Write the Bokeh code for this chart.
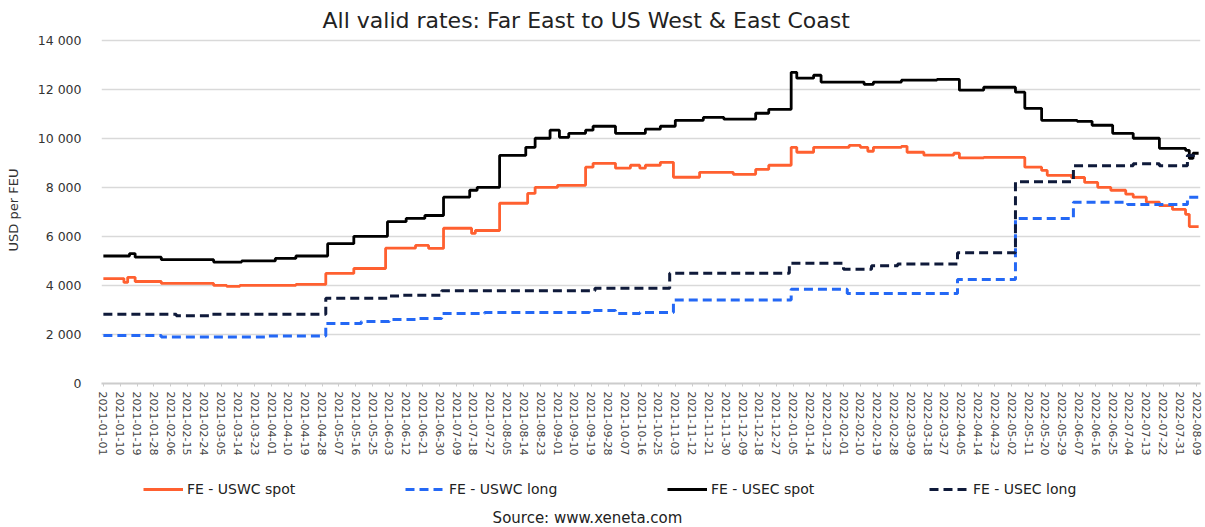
import pandas as pd
from bokeh.plotting import figure
from bokeh.layouts import column
from bokeh.models import Range1d, FixedTicker, DatetimeTickFormatter, Legend, LegendItem, Label
from bokeh.embed import file_html
from bokeh.resources import INLINE

# ---------------- data ----------------
uswc_spot_dates = ["2021-01-01", "2021-01-12", "2021-01-14", "2021-01-18", "2021-02-01", "2021-03-01",
                   "2021-03-08", "2021-03-15", "2021-04-14", "2021-04-30", "2021-05-15", "2021-06-01",
                   "2021-06-17", "2021-06-24", "2021-07-02", "2021-07-17", "2021-07-19", "2021-08-01",
                   "2021-08-16", "2021-08-20", "2021-09-01", "2021-09-16", "2021-09-20", "2021-10-02",
                   "2021-10-10", "2021-10-15", "2021-10-18", "2021-10-26", "2021-11-02", "2021-11-16",
                   "2021-11-29", "2021-12-04", "2021-12-16", "2021-12-23", "2022-01-04", "2022-01-07",
                   "2022-01-16", "2022-02-04", "2022-02-10", "2022-02-14", "2022-02-17", "2022-03-04",
                   "2022-03-07", "2022-03-16", "2022-04-01", "2022-04-04", "2022-04-17", "2022-05-09",
                   "2022-05-18", "2022-05-21", "2022-06-03", "2022-06-10", "2022-06-17", "2022-06-24",
                   "2022-07-02", "2022-07-06", "2022-07-13", "2022-07-20", "2022-07-27", "2022-08-03",
                   "2022-08-05", "2022-08-10"]
uswc_spot = [4280, 4120, 4330, 4160, 4080, 4000,
             3960, 4000, 4040, 4490, 4690, 5520,
             5630, 5510, 6330, 6120, 6240, 7350,
             7750, 8000, 8080, 8820, 8980, 8780,
             8900, 8780, 8900, 9020, 8410, 8610,
             8610, 8530, 8730, 8900, 9630, 9430,
             9630, 9710, 9630, 9470, 9630, 9670,
             9430, 9310, 9390, 9200, 9220, 8820,
             8690, 8490, 8400, 8200, 8000, 7880,
             7720, 7600, 7400, 7250, 7100, 6900,
             6400, 6400]

uswc_long_dates = ["2021-01-01", "2021-02-01", "2021-03-29", "2021-04-30", "2021-05-19", "2021-06-03",
                   "2021-06-17", "2021-07-01", "2021-07-24", "2021-09-18", "2021-10-02", "2021-10-15",
                   "2021-11-02", "2022-01-04", "2022-02-03", "2022-04-03", "2022-05-04", "2022-06-04",
                   "2022-07-03", "2022-08-04", "2022-08-10"]
uswc_long = [1960, 1900, 1940, 2450, 2530, 2610,
             2650, 2850, 2900, 2980, 2850, 2900,
             3400, 3840, 3670, 4240, 6730, 7390,
             7300, 7590, 7590]

usec_spot_dates = ["2021-01-01", "2021-01-15", "2021-01-18", "2021-02-01", "2021-03-01", "2021-03-16",
                   "2021-04-03", "2021-04-14", "2021-05-01", "2021-05-15", "2021-06-02", "2021-06-12",
                   "2021-06-22", "2021-07-02", "2021-07-16", "2021-07-20", "2021-08-01", "2021-08-15",
                   "2021-08-20", "2021-08-28", "2021-09-02", "2021-09-07", "2021-09-16", "2021-09-20",
                   "2021-10-02", "2021-10-18", "2021-10-26", "2021-11-03", "2021-11-18", "2021-11-29",
                   "2021-12-16", "2021-12-23", "2022-01-04", "2022-01-07", "2022-01-16", "2022-01-20",
                   "2022-02-12", "2022-02-17", "2022-03-04", "2022-03-23", "2022-04-04", "2022-04-17",
                   "2022-05-04", "2022-05-09", "2022-05-18", "2022-06-06", "2022-06-14", "2022-06-25",
                   "2022-07-06", "2022-07-20", "2022-08-03", "2022-08-05", "2022-08-07", "2022-08-10"]
usec_spot = [5200, 5300, 5150, 5050, 4950, 5000,
             5100, 5200, 5700, 6000, 6600, 6730,
             6850, 7600, 7880, 8000, 9300, 9630,
             10000, 10330, 10040, 10200, 10330, 10490,
             10200, 10370, 10490, 10730, 10850, 10780,
             11020, 11180, 12690, 12450, 12570, 12290,
             12200, 12290, 12370, 12400, 11960, 12080,
             11880, 11220, 10730, 10690, 10530, 10200,
             10000, 9590, 9510, 9180, 9390, 9390]

usec_long_dates = ["2021-01-01", "2021-02-09", "2021-02-27", "2021-04-30", "2021-06-02", "2021-06-10",
                   "2021-07-01", "2021-09-21", "2021-10-31", "2022-01-03", "2022-02-01", "2022-02-16",
                   "2022-03-02", "2022-04-03", "2022-05-04", "2022-06-04", "2022-07-06", "2022-07-20",
                   "2022-08-04", "2022-08-10"]
usec_long = [2820, 2760, 2820, 3480, 3570, 3600,
             3780, 3880, 4500, 4900, 4660, 4800,
             4870, 5330, 8230, 8880, 8960, 8880,
             9300, 9300]

series_names = ["FE - USWC spot", "FE - USWC long", "FE - USEC spot", "FE - USEC long"]

y_ticks = [0, 2000, 4000, 6000, 8000, 10000, 12000, 14000]
y_tick_labels = ["0", "2 000", "4 000", "6 000", "8 000", "10 000", "12 000", "14 000"]

x_tick_start = "2021-01-01"
x_tick_end = "2022-08-09"
x_tick_step_days = 9

title_text = "All valid rates: Far East to US West & East Coast"
y_label = "USD per FEU"
source_text = "Source: www.xeneta.com"

# ---------------- chart ----------------
FONT = "DejaVu Sans"
W = 1204
FRAME_LEFT = 101

def ms(s):
    return float(pd.Timestamp(s).value // 10**6)

x_ticks = [float(t.value // 10**6) for t in pd.date_range(x_tick_start, x_tick_end, freq=f"{x_tick_step_days}D")]

p = figure(width=W, height=465, x_axis_type="datetime",
           output_backend="svg", toolbar_location=None,
           x_range=Range1d(ms("2020-12-31"), ms("2022-08-11")),
           y_range=Range1d(0, 14150),
           min_border_left=FRAME_LEFT, min_border_right=4, min_border_top=36, min_border_bottom=82)

p.title.text = title_text
p.title.align = "left"
p.title.offset = 221
p.title.vertical_align = "top"
p.title.text_font = FONT
p.title.text_font_size = "22px"
p.title.text_font_style = "normal"
p.title.text_color = "#222222"
p.title.standoff = 4

p.outline_line_color = None

p.xgrid.grid_line_color = None
p.ygrid.grid_line_color = "#d9d9d9"
p.ygrid.grid_line_width = 1.5

p.yaxis.ticker = FixedTicker(ticks=y_ticks)
p.yaxis.major_label_overrides = {t: l for t, l in zip(y_ticks, y_tick_labels)}
p.yaxis.axis_line_color = None
p.yaxis.major_tick_line_color = None
p.yaxis.minor_tick_line_color = None
p.yaxis.major_label_text_font = FONT
p.yaxis.major_label_text_font_size = "12.5px"
p.yaxis.major_label_text_color = "#333333"
p.yaxis.major_label_standoff = 14
p.yaxis.axis_label = y_label
p.yaxis.axis_label_text_font = FONT
p.yaxis.axis_label_text_font_size = "13px"
p.yaxis.axis_label_text_font_style = "normal"
p.yaxis.axis_label_text_color = "#333333"
p.yaxis.axis_label_standoff = 14

fmt = "%Y-%m-%d"
p.xaxis.ticker = FixedTicker(ticks=x_ticks)
p.xaxis.formatter = DatetimeTickFormatter(
    microseconds=fmt, milliseconds=fmt, seconds=fmt, minsec=fmt, minutes=fmt,
    hourmin=fmt, hours=fmt, days=fmt, months=fmt, years=fmt)
p.xaxis.major_label_orientation = "vertical"
p.xaxis.major_label_text_font = FONT
p.xaxis.major_label_text_font_size = "11px"
p.xaxis.major_label_text_color = "#444444"
p.xaxis.axis_line_color = "#cccccc"
p.xaxis.axis_line_width = 2
p.xaxis.major_tick_line_color = "#cccccc"
p.xaxis.major_tick_in = 0
p.xaxis.major_tick_out = 3
p.xaxis.minor_tick_line_color = None
p.xaxis.major_label_standoff = 5

colors = ["#FF6030", "#2468F5", "#000000", "#0F1A3A"]
data = [(uswc_spot_dates, uswc_spot), (uswc_long_dates, uswc_long),
        (usec_spot_dates, usec_spot), (usec_long_dates, usec_long)]
dashes = ["solid", "9 5", "solid", "9 5"]
widths = [2.8, 3, 2.8, 3]

for (d, v), c, dsh, w in zip(data, colors, dashes, widths):
    xs = [ms(s) for s in d]
    p.step(x=xs, y=v, mode="after", line_color=c, line_width=w, line_dash=dsh)

# ---------------- legend + source strip (frame aligned with the chart's frame) ----------------
p2 = figure(width=W, height=61, output_backend="svg", toolbar_location=None,
            x_axis_location=None, y_axis_location=None,
            x_range=Range1d(0, 1), y_range=Range1d(0, 1),
            min_border_left=FRAME_LEFT, min_border_right=4, min_border_top=0, min_border_bottom=0)
p2.outline_line_color = None
p2.grid.grid_line_color = None

# proxy renderers carrying the same series (they fall outside this strip's ranges, so only the legend shows)
legend_renderers = []
for (d, v), c, dsh, w in zip(data, colors, dashes, widths):
    xs = [ms(s) for s in d]
    legend_renderers.append(p2.line(x=xs, y=v, line_color=c, line_width=w, line_dash=dsh))

legend = Legend(items=[LegendItem(label=n, renderers=[r]) for n, r in zip(series_names, legend_renderers)],
                orientation="horizontal", location=(143 - FRAME_LEFT, 29),
                label_text_font=FONT, label_text_font_size="14px", label_text_color="#222222",
                glyph_width=40, glyph_height=14, label_standoff=4, label_width=218,
                spacing=0, padding=0, margin=0, border_line_color=None,
                background_fill_alpha=0)
p2.add_layout(legend, "center")

src = Label(x=587 - FRAME_LEFT, y=9, x_units="screen", y_units="screen", text=source_text,
            text_align="center", text_baseline="middle", text_font=FONT,
            text_font_size="15px", text_color="#222222")
p2.add_layout(src)

layout = column(p, p2, spacing=0)
open("out.html", "w").write(file_html(layout, INLINE))
